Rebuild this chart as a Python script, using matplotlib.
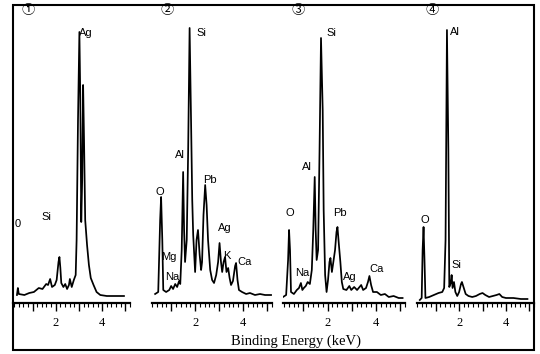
import numpy as np
import matplotlib.pyplot as plt
from matplotlib.patches import Rectangle

# EDS spectra: energy (keV) and intensity (arb.)
e1 = [0.33, 0.37, 0.41, 0.65, 0.86, 1.06, 1.27, 1.43, 1.59, 1.67, 1.76, 1.84, 1.96, 2.04,
      2.12, 2.16, 2.20, 2.24, 2.33, 2.41, 2.49, 2.57, 2.61, 2.69, 2.78, 2.86, 2.90, 2.96,
      3.02, 3.06, 3.10, 3.14, 3.18, 3.22, 3.27, 3.35, 3.43, 3.51, 3.63, 3.76, 3.92, 4.20,
      4.53, 4.94]
i1 = [8, 15, 9, 8, 10, 11, 15, 14, 19, 18, 24, 16, 18, 23,
      41, 46, 35, 20, 16, 19, 14, 18, 24, 16, 23, 28, 63, 183,
      271, 203, 81, 123, 218, 163, 83, 58, 38, 25, 18, 11, 8, 7,
      7, 7]

e2 = [0.33, 0.46, 0.54, 0.58, 0.63, 0.67, 0.79, 0.92, 1.00, 1.08, 1.17, 1.25, 1.33, 1.38,
      1.44, 1.50, 1.54, 1.58, 1.65, 1.71, 1.77, 1.83, 1.88, 1.92, 2.00, 2.06, 2.12, 2.19,
      2.25, 2.29, 2.35, 2.42, 2.48, 2.54, 2.63, 2.71, 2.79, 2.88, 2.96, 3.02, 3.08, 3.13,
      3.19, 3.25, 3.31, 3.38, 3.44, 3.50, 3.58, 3.67, 3.71, 3.77, 3.83, 3.96, 4.13, 4.29,
      4.50, 4.71, 4.92, 5.17]
i2 = [9, 11, 83, 106, 63, 13, 11, 13, 17, 14, 19, 16, 22, 19,
      53, 131, 73, 41, 63, 153, 275, 183, 103, 68, 31, 63, 73, 48,
      33, 41, 88, 118, 98, 63, 33, 23, 20, 28, 41, 60, 41, 31,
      41, 46, 31, 35, 25, 18, 22, 37, 40, 23, 13, 11, 9, 10,
      8, 9, 8, 8]

e3 = [0.16, 0.29, 0.37, 0.41, 0.45, 0.49, 0.61, 0.73, 0.82, 0.90, 0.96, 1.02, 1.10, 1.18,
      1.27, 1.35, 1.41, 1.47, 1.51, 1.55, 1.61, 1.67, 1.73, 1.80, 1.84, 1.90, 1.96, 2.02,
      2.08, 2.12, 2.18, 2.24, 2.31, 2.37, 2.41, 2.47, 2.53, 2.59, 2.65, 2.78, 2.90, 2.98,
      3.10, 3.22, 3.39, 3.47, 3.59, 3.67, 3.73, 3.80, 3.88, 4.04, 4.20, 4.37, 4.53, 4.73,
      4.94, 5.10]
i3 = [6, 8, 43, 73, 53, 11, 9, 13, 15, 20, 13, 15, 17, 21,
      19, 33, 73, 126, 73, 43, 53, 153, 265, 193, 93, 28, 11, 23,
      41, 45, 31, 41, 53, 71, 76, 58, 41, 21, 14, 13, 17, 13,
      16, 13, 18, 13, 15, 21, 27, 18, 11, 11, 8, 9, 6, 7,
      5, 5]

e4 = [0.32, 0.40, 0.44, 0.48, 0.52, 0.56, 0.72, 0.92, 1.12, 1.28, 1.36, 1.42, 1.48, 1.54,
      1.58, 1.64, 1.68, 1.72, 1.78, 1.84, 1.92, 2.00, 2.08, 2.12, 2.20, 2.28, 2.40, 2.56,
      2.72, 2.88, 3.00, 3.12, 3.28, 3.44, 3.60, 3.72, 3.84, 4.00, 4.32, 4.64, 4.92]
i4 = [3, 5, 53, 76, 43, 5, 6, 8, 10, 11, 15, 63, 273, 153,
      16, 20, 28, 15, 21, 11, 7, 11, 19, 21, 15, 9, 7, 6,
      7, 9, 10, 8, 6, 7, 8, 9, 6, 5, 5, 4, 4]

energies = [e1, e2, e3, e4]
counts = [i1, i2, i3, i4]
panel_tags = ["①", "②", "③", "④"]

# element labels: (text, energy, intensity)
labels1 = [("Ag", 3.31, 270), ("Si", 1.59, 86), ("0", 0.37, 79)]
labels2 = [("Si", 2.25, 270), ("Al", 1.38, 148), ("O", 0.54, 111), ("Pb", 2.63, 123),
           ("Ag", 3.25, 75), ("Mg", 0.92, 46), ("Na", 1.04, 26), ("K", 3.33, 47),
           ("Ca", 4.08, 41)]
labels3 = [("Si", 2.16, 270), ("Al", 1.14, 136), ("O", 0.45, 90), ("Pb", 2.53, 90),
           ("Na", 0.94, 30), ("Ag", 2.94, 26), ("Ca", 4.04, 34)]
labels4 = [("Al", 1.80, 271), ("O", 0.52, 83), ("Si", 1.88, 38)]
all_labels = [labels1, labels2, labels3, labels4]

# layout (pixels of a 540x354 image): left, right edge of each axis, and x-range in keV
W, H = 540, 354
px_left = [13, 152, 283, 417]
px_right = [130, 272, 405, 534]
xlims = [(0.16, 4.94), (0.21, 5.21), (0.16, 5.14), (0.28, 4.96)]
base_y, top_y = 303, 5

fig = plt.figure(figsize=(5.4, 3.54), dpi=100)

for k in range(4):
    ax = fig.add_axes([px_left[k] / W, 1 - base_y / H,
                       (px_right[k] - px_left[k]) / W, (base_y - top_y) / H])
    ax.plot(energies[k], counts[k], color="black", lw=1.25)
    ax.set_xlim(*xlims[k])
    ax.set_ylim(0, 298)
    for s in ["top", "left", "right"]:
        ax.spines[s].set_visible(False)
    ax.spines["bottom"].set_linewidth(1.6)
    ax.set_yticks([])
    ax.set_xticks([1, 2, 3, 4, 5])
    ax.set_xticklabels(["", "2", "", "4", ""], family="Liberation Serif", fontsize=9)
    ax.set_xticks(np.arange(0.2, 5.3, 0.2), minor=True)
    ax.tick_params(axis="x", which="major", direction="out", length=6, width=1.0, pad=4)
    ax.tick_params(axis="x", which="minor", direction="out", length=3, width=0.8)
    ax.patch.set_alpha(0)
    ax.text(0.07, 0.98, panel_tags[k], transform=ax.transAxes, fontsize=9.5,
            family=["Noto Sans CJK SC", "DejaVu Sans"], ha="left", va="center")
    for txt, ex, ey in all_labels[k]:
        ax.text(ex, ey, txt, fontsize=8, family="Liberation Sans",
                ha="center", va="center")

fig.add_artist(Rectangle((13 / W, 1 - 350 / H), (534 - 13) / W, (350 - 5) / H,
                         transform=fig.transFigure, fill=False, lw=1.5, color="black"))
fig.text(296 / W, 1 - 341 / H, "Binding Energy (keV)", family="Liberation Serif",
         fontsize=10.5, ha="center", va="center")

fig.savefig("out.png", dpi=100)
